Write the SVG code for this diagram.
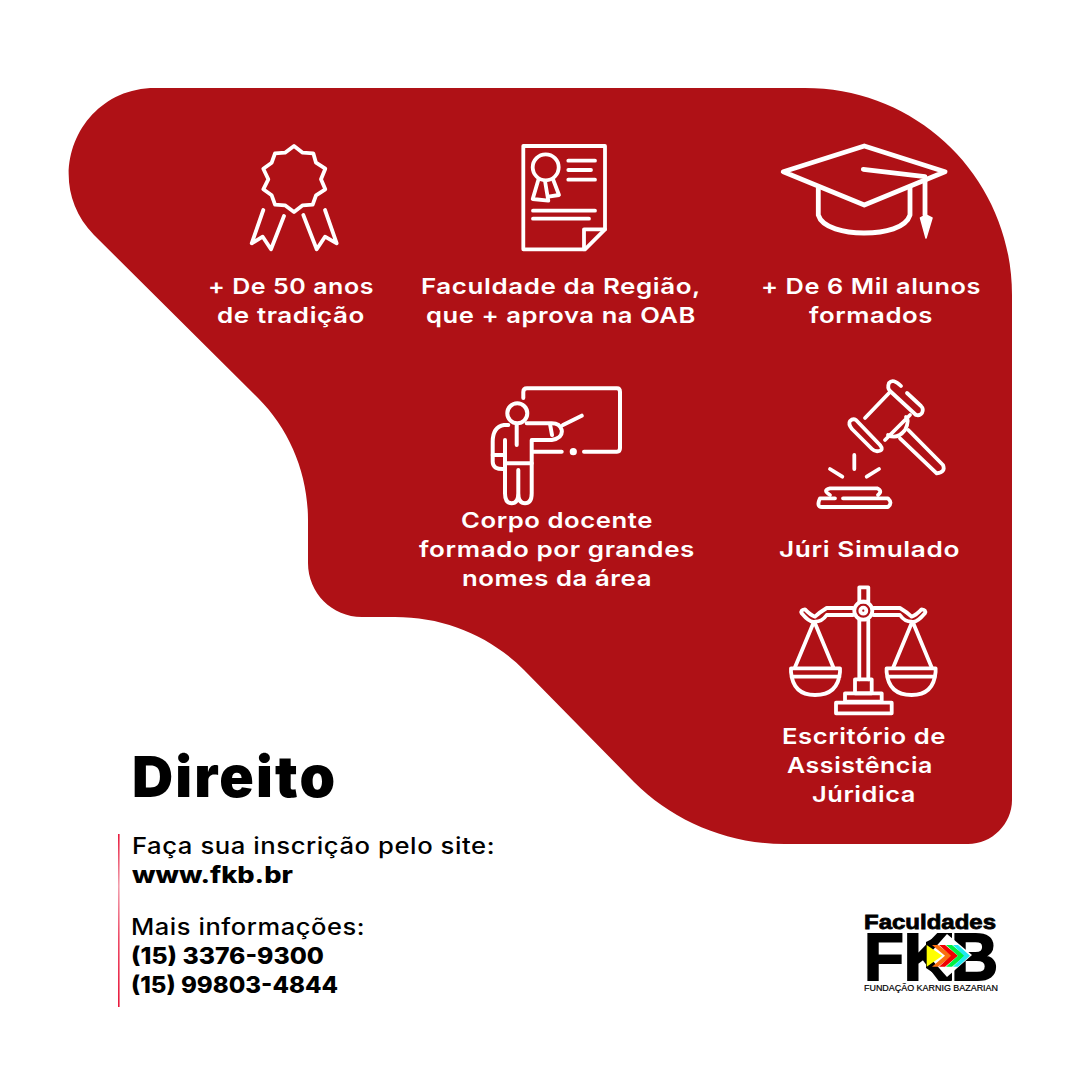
<svg xmlns="http://www.w3.org/2000/svg" width="1080" height="1080" viewBox="0 0 1080 1080">
<style>
.i{fill:none;stroke:#fff;stroke-width:3.8;stroke-linecap:round;stroke-linejoin:round}
.w{font-family:Inter,"Open Sans","Liberation Sans",sans-serif;font-weight:600;font-size:22px;fill:#fff;letter-spacing:.5px}
.k{font-family:Inter,"Open Sans","Liberation Sans",sans-serif;font-weight:500;font-size:22.5px;fill:#000;letter-spacing:.5px}
.b{font-family:Inter,"Open Sans","Liberation Sans",sans-serif;font-weight:800;font-size:22.5px;fill:#000}
</style>
<defs>
<linearGradient id="bar" x1="0" y1="0" x2="0" y2="1"><stop offset="0" stop-color="#e8193c"/><stop offset="0.3" stop-color="#f2a0ae"/><stop offset="0.6" stop-color="#ee4a66"/><stop offset="1" stop-color="#e8193c"/></linearGradient>
</defs>
<rect width="1080" height="1080" fill="#fff"/>
<path id="blob" fill="#af1116" d="M155,88 H805 C920,88 1012,180 1012,295 V800 C1012,824 992,844 968,844 H785 C727,844 673,821 634,782 L524,670 C490,636 445,617 395,617 H362 C332,617 308,593 308,563 V520 C308,474 290,430 258,398 L94,235 C40,180 78,88 155,88 Z"/>
<g id="ribbon" class="i">
<polygon points="294,146 302.7,152.7 313.3,153.3 316,162.7 325.3,168.7 321,179.3 325.3,189.3 316,195.3 312.7,204.7 302.7,205.3 294,212 285,205.3 275,204.7 271.7,195.3 263.3,189.3 268.3,179.3 263.3,168.7 271.7,162.7 275,153.3 285,152.7"/>
<path d="M263.3,210 L251.7,243.3 L262.7,236.7 L271,249.3 L284,216"/>
<path d="M303.3,215 L316.7,249.3 L325,236.7 L336.7,243.3 L325,210"/>
</g>
<g id="document" class="i">
<path d="M523.3,146 H605 V229.3 L585,249.3 H523.3 Z"/>
<path d="M605,229.3 H584 V249.3"/>
<circle cx="545.7" cy="167.3" r="13"/>
<path d="M538.3,180 L532.7,199 L548.3,200.7 L545,181"/>
<path d="M553.3,180 L559,195 L548.5,196.7"/>
<path d="M568.3,160.7 H595 M568.3,170 H591 M568.3,179.7 H595 M533,210.7 H595 M533,218.7 H589"/>
</g>
<g id="cap" class="i" style="stroke-width:4.8">
<polygon points="864.3,146 945,171.7 864.3,205 783.3,171.7"/>
<path d="M863.3,169.3 L925,176.7 V215"/>
<path d="M818.3,188.3 V215 C822,228 845,233 864,233 C885,233 906,228 910,215 V187"/>
<polygon points="920.5,218 926,238 932,218 926,215" fill="#fff" style="stroke-width:1.5"/>
</g>
<g id="teacher" class="i" style="stroke-width:4">
<path d="M523.3,398 V392 Q523.3,388.3 527,388.3 H617 Q620,388.3 620,392 V448 Q620,451.7 617,451.7 H584"/>
<circle cx="573.3" cy="451.7" r="1.6" fill="#fff"/>
<path d="M561.7,451.7 H532"/>
<circle cx="517.3" cy="413.3" r="10"/>
<path d="M508.3,425 H504 Q492.7,427 492.7,441.7 V461.7 Q492.7,470 505,469"/>
<path d="M505,440 V493.3 Q505,503.3 511.700,503.300 Q518.3,503.3 518.3,493.3 V470 M518.3,493.3 Q518.3,503.3 525,503.3 Q531.7,503.3 531.7,493.3 V440 H551.7 Q563,438 561.7,430 Q560,423.3 551.7,423.3 H526.7"/>
<path d="M516.7,425 V445 M492.7,455 H505 M505,463.3 H531.700 M563,425 L581.7,415.7 M550,424 L552,435"/>
</g>
<g id="gavel" class="i">
<path d="M908.3,430 L943,465 Q946,472 936.7,473.300 L900,438.300"/>
<path d="M856,420 L880,445 Q884,450 879,451 Q875,452 872,449 L852,429 Q848,424 850,421 Q853,418 856,420 Z"/>
<path d="M901,386 Q893,378 889,383 Q887,388 890,391 L916,415 Q920,416 922,413 Q924,409 921,406 L907,393"/>
<path d="M865,418 L890,392 M885,440 L910,415 M888,435 Q897,440 905,430 Q910,420 906,417"/>
<path d="M854.3,455 V469 M830,469 L842.3,476.700 M879,469 L866.7,476.700"/>
<path d="M830,495 Q822,490 830,488.300 H877 Q883,491 878,495"/>
<path d="M835,498.300 H820 Q816,507 822,507 H888 Q893,503 888,498.300 H843"/>
</g>
<g id="scales" class="i">
<rect x="859.3" y="587.300" width="9" height="14.400"/>
<circle cx="863.3" cy="610.700" r="9"/>
<circle cx="863.3" cy="610.700" r="3"/>
<path d="M859.3,620 V679.300 M868.3,620 V679.300"/>
<rect x="855" y="679.300" width="16.700" height="14"/>
<rect x="845" y="693.300" width="36.700" height="8.400"/>
<rect x="836" y="702.700" width="55.700" height="10.600"/>
<g id="pan">
<path d="M853,608 H826.7 Q820,612 815,616.700 Q810,615 805,609.300 Q800,610 801.700,613.300 Q810,623.300 815,621.700 Q822,621.700 826.700,615 H853"/>
<path d="M813.300,623.300 L795,667.300 M815,623.300 L833.300,667.300"/>
<path d="M791,668.300 H840 V672 Q838,695 815,695 Q793,695 791,672 Z M791.500,676.700 H839.500"/>
</g>
<use href="#pan" transform="translate(1726.6 0) scale(-1 1)"/>
</g>
<g id="labels">
<text class="w" lengthAdjust="spacingAndGlyphs" x="208" y="293.500" textLength="166">+ De 50 anos</text>
<text class="w" lengthAdjust="spacingAndGlyphs" x="217" y="322.500" textLength="148">de tradição</text>
<text class="w" lengthAdjust="spacingAndGlyphs" x="421" y="293.500" textLength="280">Faculdade da Região,</text>
<text class="w" lengthAdjust="spacingAndGlyphs" x="426" y="322.500" textLength="270">que + aprova na OAB</text>
<text class="w" lengthAdjust="spacingAndGlyphs" x="761" y="293.500" textLength="220">+ De 6 Mil alunos</text>
<text class="w" lengthAdjust="spacingAndGlyphs" x="809" y="322.500" textLength="124">formados</text>
<text class="w" lengthAdjust="spacingAndGlyphs" x="461" y="527.500" textLength="192">Corpo docente</text>
<text class="w" lengthAdjust="spacingAndGlyphs" x="419" y="556.500" textLength="276">formado por grandes</text>
<text class="w" lengthAdjust="spacingAndGlyphs" x="462" y="585.500" textLength="190">nomes da área</text>
<text class="w" lengthAdjust="spacingAndGlyphs" x="779" y="556.500" textLength="181">Júri Simulado</text>
<text class="w" lengthAdjust="spacingAndGlyphs" x="782" y="743.500" textLength="164">Escritório de</text>
<text class="w" lengthAdjust="spacingAndGlyphs" x="787" y="772.500" textLength="146">Assistência</text>
<text class="w" lengthAdjust="spacingAndGlyphs" x="812" y="801.500" textLength="104">Júridica</text>
</g>
<g id="info">
<text x="132" y="797" textLength="203" style="font-family:Inter,'Liberation Sans',sans-serif;font-weight:900;font-size:57px;fill:#000">Direito</text>
<rect x="118" y="834" width="1.600" height="173" fill="url(#bar)"/>
<text class="k" lengthAdjust="spacingAndGlyphs" x="132" y="853.500" textLength="363">Faça sua inscrição pelo site:</text>
<text class="b" lengthAdjust="spacingAndGlyphs" x="132" y="883" textLength="161">www.fkb.br</text>
<text class="k" lengthAdjust="spacingAndGlyphs" x="131" y="934.500" textLength="234">Mais informações:</text>
<text class="b" lengthAdjust="spacingAndGlyphs" x="131" y="963.500" textLength="193">(15) 3376-9300</text>
<text class="b" lengthAdjust="spacingAndGlyphs" x="131" y="992.500" textLength="207">(15) 99803-4844</text>
</g>
<g id="logo">
<text x="864" y="928.500" textLength="132" lengthAdjust="spacingAndGlyphs" style="font-family:'Liberation Sans',Arial,sans-serif;font-weight:700;font-size:21px;fill:#000;stroke:#000;stroke-width:.8">Faculdades</text>
<text x="864" y="980" textLength="134" lengthAdjust="spacingAndGlyphs" style="font-family:'Liberation Sans',Arial,sans-serif;font-weight:700;font-size:66px;fill:#000;stroke:#000;stroke-width:2">FKB</text>
<polygon points="926,942 944,933 952,933 952,980 944,980 926,968" fill="#000"/>
<polygon points="947,934 928,955.500 947,977 972,955" fill="#fff"/>
<polygon points="926.700,945 926.700,966.700 942.300,955.700" fill="#ffff00"/>
<polygon points="932,945 938,945 952,955.700 938,966.700 932,966.700 945,955.700" fill="#f97010"/>
<polygon points="939,945 945,945 958,955.700 945,966.700 939,966.700 951,955.700" fill="#f00000"/>
<polygon points="946,945 952,945 965,955.700 952,966.700 946,966.700 958,955.700" fill="#00f040"/>
<polygon points="953,945 958,945 970,955.700 958,966.700 953,966.700 964,955.700" fill="#20e8f0"/>
<text x="864" y="990.500" textLength="134" lengthAdjust="spacingAndGlyphs" style="font-family:'Liberation Sans',Arial,sans-serif;font-weight:400;font-size:8.500px;fill:#000;stroke:#000;stroke-width:.2">FUNDAÇÃO KARNIG BAZARIAN</text>
</g>
</svg>
